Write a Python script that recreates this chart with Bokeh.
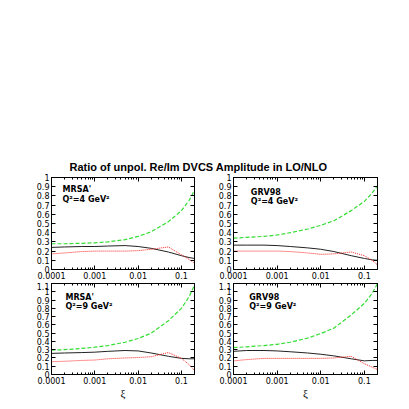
from bokeh.plotting import figure
from bokeh.layouts import column, row
from bokeh.models import (Range1d, Label, Title, LinearAxis, LogAxis, LogTicker,
                          SingleIntervalTicker, CustomJSTickFormatter)
from bokeh.embed import file_html
from bokeh.resources import INLINE

FONT = "DejaVu Sans"

# xi values shared by all four panels
xi = [1e-4, 2e-4, 5e-4, 1e-3, 2e-3, 5e-3, 1e-2, 2e-2, 5e-2, 0.1, 0.15, 0.2]

# MRSA', Q^2 = 4 GeV^2
mrsa4_green = [0.28, 0.28, 0.285, 0.29, 0.30, 0.325, 0.36, 0.41, 0.52, 0.64, 0.75, 0.86]
mrsa4_black = [0.24, 0.245, 0.25, 0.25, 0.255, 0.26, 0.25, 0.23, 0.19, 0.15, 0.13, 0.12]
mrsa4_red = [0.17, 0.18, 0.195, 0.20, 0.20, 0.20, 0.205, 0.22, 0.245, 0.16, 0.11, 0.07]

# GRV98, Q^2 = 4 GeV^2
grv4_green = [0.34, 0.35, 0.36, 0.375, 0.40, 0.44, 0.48, 0.53, 0.64, 0.74, 0.83, 0.91]
grv4_black = [0.265, 0.265, 0.265, 0.26, 0.25, 0.235, 0.22, 0.195, 0.15, 0.12, 0.105, 0.10]
grv4_red = [0.20, 0.20, 0.20, 0.20, 0.195, 0.18, 0.165, 0.17, 0.19, 0.15, 0.10, 0.05]

# MRSA', Q^2 = 9 GeV^2
mrsa9_green = [0.295, 0.30, 0.315, 0.33, 0.35, 0.39, 0.435, 0.50, 0.65, 0.80, 0.94, 1.08]
mrsa9_black = [0.255, 0.26, 0.265, 0.27, 0.28, 0.29, 0.285, 0.26, 0.22, 0.195, 0.19, 0.19]
mrsa9_red = [0.155, 0.16, 0.17, 0.175, 0.19, 0.20, 0.205, 0.215, 0.265, 0.195, 0.12, 0.05]

# GRV98, Q^2 = 9 GeV^2
grv9_green = [0.325, 0.335, 0.35, 0.365, 0.39, 0.44, 0.495, 0.56, 0.72, 0.86, 0.98, 1.10]
grv9_black = [0.28, 0.29, 0.29, 0.285, 0.275, 0.26, 0.245, 0.225, 0.19, 0.165, 0.17, 0.17]
grv9_red = [0.165, 0.18, 0.195, 0.195, 0.195, 0.195, 0.195, 0.20, 0.22, 0.13, 0.09, 0.06]

title_text = "Ratio of unpol. Re/Im DVCS Amplitude in LO/NLO"

xfmt = "return parseFloat(tick.toPrecision(3)).toString();"
yfmt = "return parseFloat(tick.toFixed(2)).toString();"
blank = "return '';"


def panel(green, black, red, name, q2, ymax, left, right, top, bottom,
          fh, fw, xlabel, lab_x, lab_y1, lab_y2):
    p = figure(x_axis_type="log", x_range=Range1d(1e-4, 0.2), y_range=Range1d(0, ymax),
               frame_width=fw, frame_height=fh, toolbar_location=None,
               output_backend="svg", min_border_left=left, min_border_right=right,
               min_border_top=top, min_border_bottom=bottom)
    p.grid.visible = False
    p.outline_line_color = "black"
    p.background_fill_color = "white"
    p.border_fill_color = "white"

    p.xaxis.ticker = LogTicker(num_minor_ticks=10)
    p.xaxis.formatter = CustomJSTickFormatter(code=xfmt)
    p.yaxis.ticker = SingleIntervalTicker(interval=0.1, num_minor_ticks=0)
    p.yaxis.formatter = CustomJSTickFormatter(code=yfmt)
    for ax in p.xaxis + p.yaxis:
        ax.major_tick_in = 4
        ax.major_tick_out = 0
        ax.minor_tick_in = 2
        ax.minor_tick_out = 0
        ax.major_label_standoff = 2
        ax.major_label_text_font = FONT
        ax.major_label_text_font_size = "8px"
        ax.major_label_text_color = "black"
        ax.axis_line_color = "black"
    if xlabel:
        p.xaxis.axis_label = "ξ"
        p.xaxis.axis_label_text_font = "Liberation Serif"
        p.xaxis.axis_label_text_font_style = "normal"
        p.xaxis.axis_label_text_font_size = "11px"
        p.xaxis.axis_label_text_color = "black"
        p.xaxis.axis_label_standoff = 0

    # mirrored ticks, gnuplot style
    ax_r = LinearAxis(ticker=SingleIntervalTicker(interval=0.1, num_minor_ticks=0),
                      formatter=CustomJSTickFormatter(code=blank),
                      major_label_text_font_size="2px", major_label_standoff=0,
                      major_tick_in=4, major_tick_out=0, minor_tick_in=0, minor_tick_out=0)
    ax_t = LogAxis(ticker=LogTicker(num_minor_ticks=10),
                   formatter=CustomJSTickFormatter(code=blank),
                   major_label_text_font_size="2px", major_label_standoff=0,
                   major_tick_in=4, major_tick_out=0, minor_tick_in=2, minor_tick_out=0)
    p.add_layout(ax_r, "right")
    p.add_layout(ax_t, "above")

    p.line(xi, green, line_color="#33dd33", line_width=1.2, line_dash="4 2")
    p.line(xi, black, line_color="#222222", line_width=1)
    p.line(xi, red, line_color="#ff2020", line_width=1, line_dash="1 1")

    for txt, yy in ((name, lab_y1), (q2, lab_y2)):
        p.add_layout(Label(x=lab_x, y=yy, text=txt, text_font=FONT, text_font_size="8px",
                           text_font_style="bold", text_baseline="top", text_color="black"))
    return p


header = figure(width=396, height=173, toolbar_location=None, output_backend="svg",
                x_range=Range1d(0, 1), y_range=Range1d(0, 1),
                min_border_left=0, min_border_right=0, min_border_top=0, min_border_bottom=0)
header.axis.visible = False
header.grid.visible = False
header.outline_line_color = None
header.add_layout(Title(text=title_text, align="center", text_font="Liberation Sans",
                        text_font_size="11px", text_font_style="bold",
                        text_color="black", standoff=2), "below")

p1 = panel(mrsa4_green, mrsa4_black, mrsa4_red, "MRSA'", "Q²=4 GeV²", 1.0,
           51, 11, 4, 13, 92, 143, False, 1.8e-4, 0.92, 0.815)
p2 = panel(grv4_green, grv4_black, grv4_red, "GRV98", "Q²=4 GeV²", 1.0,
           28, 16, 4, 13, 92, 144, False, 2.5e-4, 0.885, 0.785)
p3 = panel(mrsa9_green, mrsa9_black, mrsa9_red, "MRSA'", "Q²=9 GeV²", 1.1,
           51, 11, 1, 24, 91, 143, True, 2.1e-4, 0.98, 0.88)
p4 = panel(grv9_green, grv9_black, grv9_red, "GRV98", "Q²=9 GeV²", 1.1,
           28, 16, 1, 24, 91, 144, True, 2.3e-4, 0.98, 0.88)

p = column(header, row(p1, p2), row(p3, p4))

open("out.html", "w").write(file_html(p, INLINE))
